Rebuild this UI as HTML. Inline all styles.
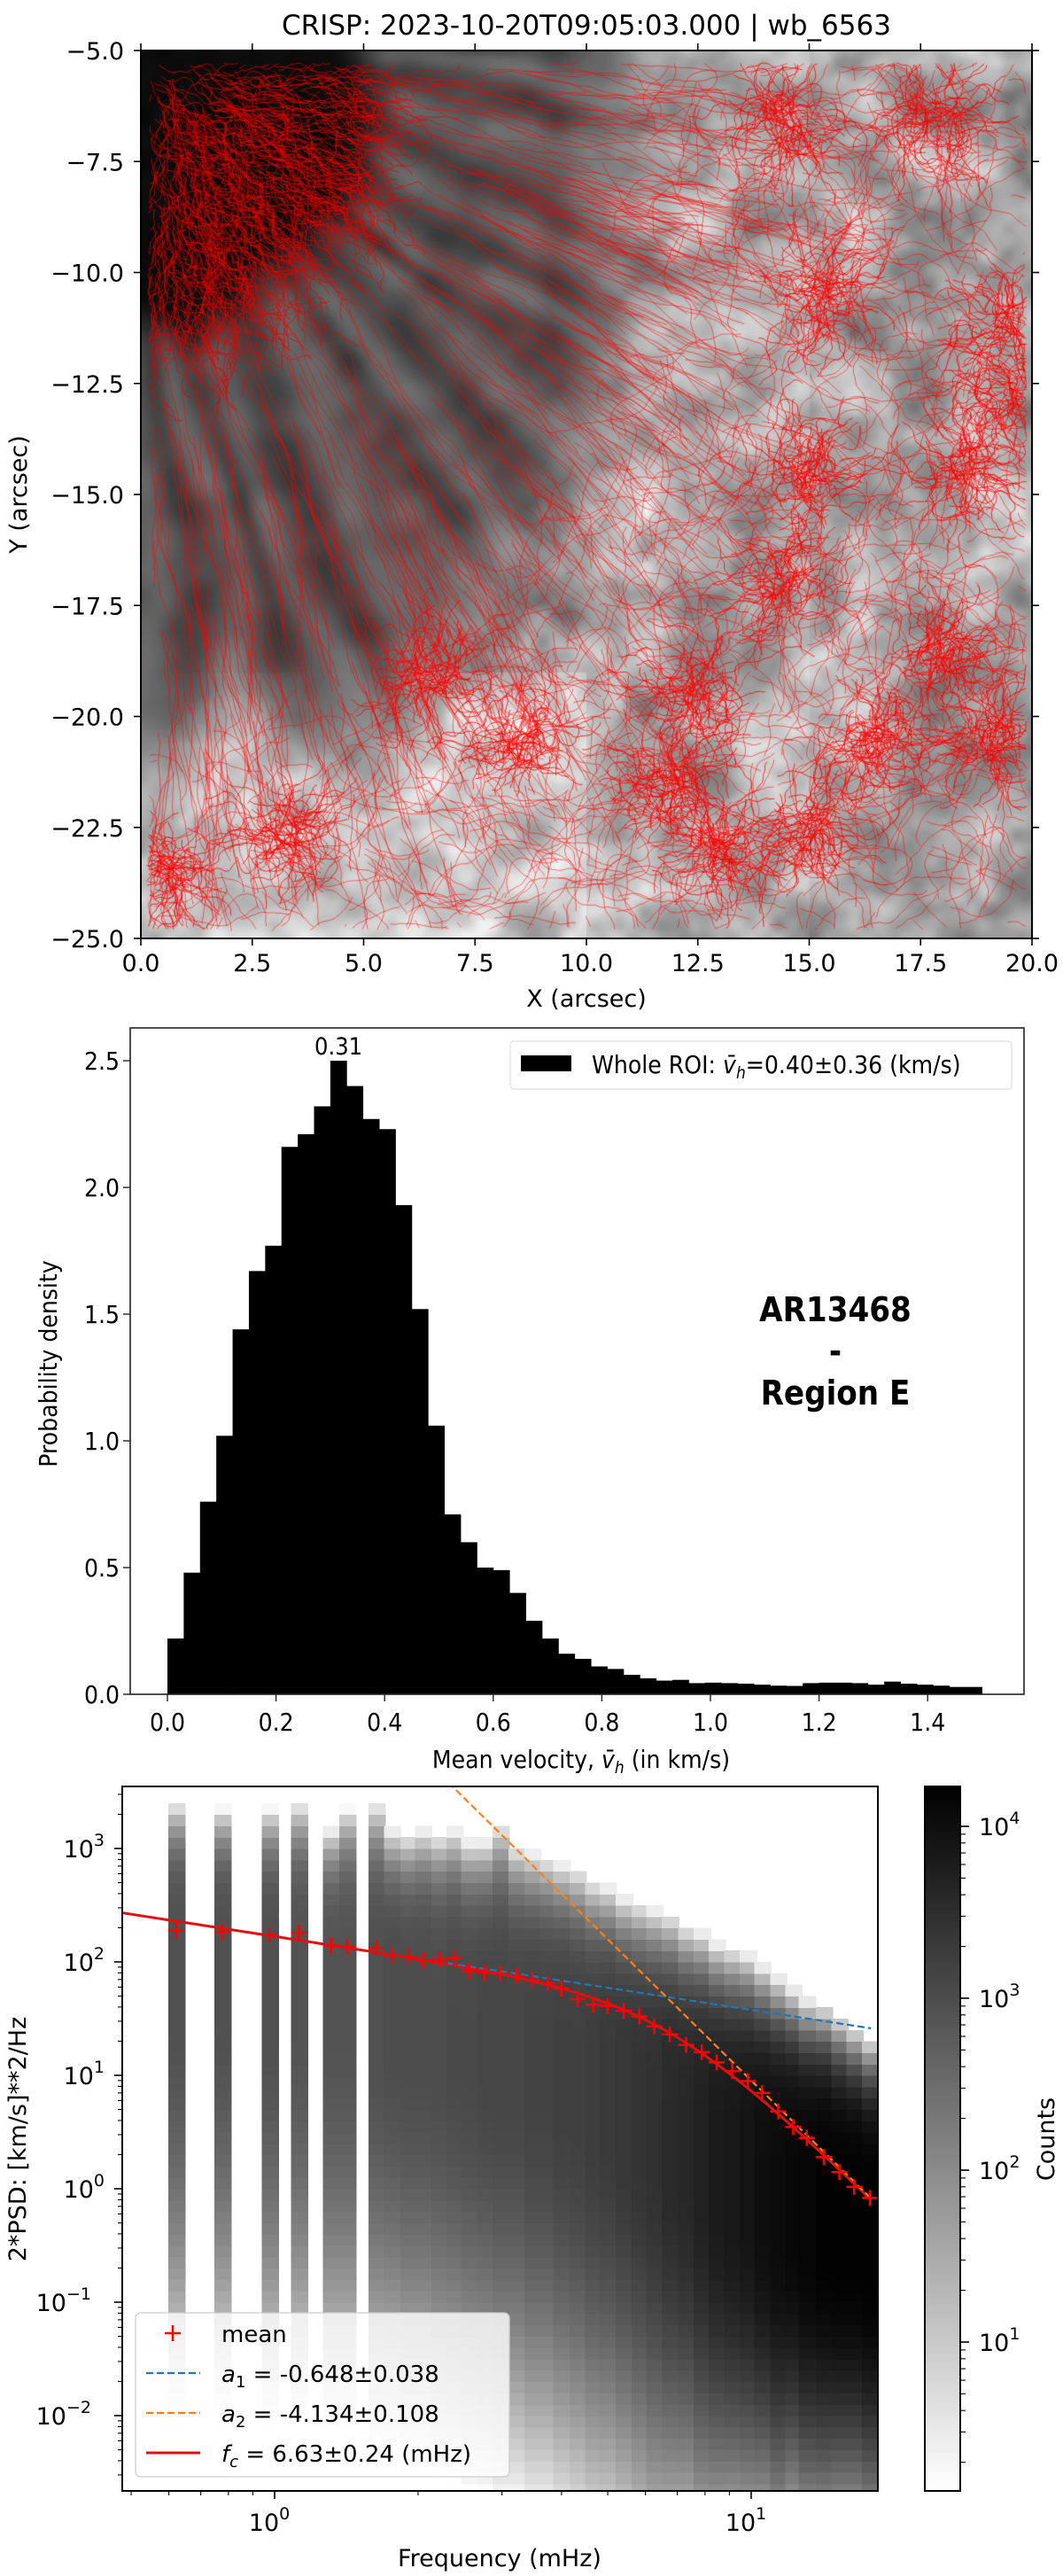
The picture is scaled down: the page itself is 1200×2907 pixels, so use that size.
<!DOCTYPE html>
<html><head><meta charset="utf-8">
<style>
body{margin:0;background:#fff;width:1200px;height:2907px;overflow:hidden;position:relative;font-family:"DejaVu Sans","Liberation Sans",sans-serif}
#bg{position:absolute;left:159px;top:57px;width:1006px;height:1002px}
#main{position:absolute;left:0;top:0}
</style></head>
<body>
<canvas id="bg" width="1006" height="1002"></canvas>
<svg id="main" width="1200" height="2907" xmlns="http://www.w3.org/2000/svg"></svg>
<script>
// ---------- Histogram data (panel 2) ----------
const binStart = 0.0;
const binWidth = 0.03;
const density = [0.22,0.48,0.76,1.02,1.44,1.67,1.77,2.16,2.21,2.32,2.50,2.40,2.27,2.23,1.93,1.52,1.06,0.71,0.60,0.50,0.49,0.40,0.29,0.22,0.16,0.14,0.11,0.10,0.077,0.063,0.054,0.057,0.044,0.046,0.044,0.042,0.038,0.034,0.033,0.044,0.046,0.046,0.044,0.038,0.05,0.042,0.038,0.034,0.029,0.029];
const histYTicks = [0.0,0.5,1.0,1.5,2.0,2.5];
const histXTicks = [0.0,0.2,0.4,0.6,0.8,1.0,1.2,1.4];
// ---------- PSD data (panel 3) ----------
const meanFreq = [0.622,0.777,0.977,1.125,1.313,1.420,1.635,1.762,1.907,2.049,2.216,2.382,2.561,2.761,2.977,3.220,3.471,3.744,3.997,4.323,4.662,4.994,5.403,5.827,6.262,6.751,7.302,7.875,8.464,9.125,9.838,10.54,11.40,12.25,13.08,14.20,15.31,16.45,17.74];
const meanPSD = [190,183,172,181,140,136,133,114,111,103,105,108,83,80,79,75,69,65,58,47,42,41,37,33,27,23,18.5,16,13,10.9,8.9,7.0,4.8,3.5,2.8,1.9,1.4,1.04,0.83];
const colPeak = [2.95,2.95,2.95,2.9,2.9,2.9,2.95,3.0,3.0,3.0,3.0,3.05,3.05,3.1,3.1,3.1,3.15,3.15,3.2,3.2,3.25,3.3,3.35,3.4,3.45,3.55,3.6,3.7,3.8,3.85,3.9,4.0,4.05,4.1,4.15,4.2,4.2,4.2,4.2];
const colCenter = [1.6,1.6,1.5,1.5,1.4,1.4,1.3,1.3,1.2,1.2,1.1,1.1,1.0,1.0,0.9,0.9,0.8,0.8,0.7,0.6,0.5,0.5,0.4,0.3,0.2,0.1,0.0,-0.1,-0.2,-0.3,-0.3,-0.4,-0.5,-0.5,-0.6,-0.6,-0.7,-0.7,-0.8];
const colSigDown = [1,1,1,1,1,1,1,1,1,1,1,1,1,1,1,1,1,1,1,1,1,1,1,1,1,0.95,0.9,0.9,0.85,0.8,0.8,0.75,0.75,0.7,0.7,0.7,0.65,0.65,0.65];
const colTop = [3.43,3.38,3.38,3.43,3.2,3.38,3.43,3.2,3.15,3.2,3.15,3.2,3.1,3.1,3.25,3.05,3.0,2.95,2.9,2.85,2.75,2.7,2.6,2.55,2.5,2.45,2.35,2.3,2.2,2.15,2.1,2.0,1.9,1.8,1.7,1.65,1.55,1.45,1.35];
const fitA = 168, fitA1 = -0.648, fitA2 = -4.134, fitFc = 6.63;
const psdYTickExp = [-2,-1,0,1,2,3];
const psdXTickExp = [0,1];
const cbarTickExp = [1,2,3,4];

const svg = document.getElementById('main');
const NS = 'http://www.w3.org/2000/svg';
function mk(tag, attrs, parent){const e=document.createElementNS(NS,tag);for(const k in attrs)e.setAttribute(k,attrs[k]);(parent||svg).appendChild(e);return e;}
function grp(parent){return mk('g',{},parent);}

// =============== PANEL 1 : image =================
(function(){
const cv=document.getElementById('bg');const ctx=cv.getContext('2d');
const W=1006,H=1002;
function hash(i,j){let h=Math.imul(i,374761393)+Math.imul(j,668265263)|0;h=Math.imul(h^(h>>>13),1274126177);h=h^(h>>>16);return (h>>>0)/4294967295;}
function vn(x,y){const i=Math.floor(x),j=Math.floor(y);const fx=x-i,fy=y-j;const sx=fx*fx*(3-2*fx),sy=fy*fy*(3-2*fy);
const a=hash(i,j),b=hash(i+1,j),c=hash(i,j+1),d=hash(i+1,j+1);return a+(b-a)*sx+(c-a)*sy+(a-b-c+d)*sx*sy;}
function fbm(x,y){return 0.55*vn(x,y)+0.3*vn(x*2.1+7,y*2.1+3)+0.15*vn(x*4.3+1,y*4.3+9);}
function ss(a,b,x){const t=Math.min(1,Math.max(0,(x-a)/(b-a)));return t*t*(3-2*t);}
const img=ctx.createImageData(W,H);const D=img.data;
for(let py=0;py<H;py++){for(let px=0;px<W;px++){
 const X=px/50.3, Y=-5-py/50.1;
 const dx=X+0.5, dy=-(Y+4.5);
 const r=Math.hypot(dx,dy);const th=Math.atan2(dy,dx);
 const Ru=5.2+1.8*Math.sin(th)+0.6*(vn(th*6,1)-0.5);
 const Rp=11+5.5*Math.sin(th)+2.0*(vn(th*5,4)-0.5);
 const q=fbm(X*0.8,Y*0.8);
 let quiet=0.57+0.55*(q-0.3)+0.12*(vn(X*3,Y*3)-0.5);
 if(X<10&&Y<-19)quiet+=0.08;
 if(X>15)quiet-=0.04;
 quiet=Math.min(0.97,Math.max(0.40,quiet));
 const fib=0.5+0.5*Math.sin(th*40+5*vn(th*8,r*0.25));
 let pen=0.26+0.16*fib*(0.4+0.6*r/Rp)+0.1*(vn(X*1.5,Y*1.5)-0.5);
 const umb=0.03+0.03*vn(X*2,Y*2);
 let v;
 const tu=ss(Ru-0.8,Ru+0.8,r), tp=ss(Rp-2,Rp+2,r);
 v=umb*(1-tu)+pen*tu; v=v*(1-tp)+quiet*tp;
 const g=Math.round(255*Math.min(1,Math.max(0,v)));
 const k=(py*W+px)*4;D[k]=g;D[k+1]=g;D[k+2]=g;D[k+3]=255;}}
ctx.putImageData(img,0,0);
// tracks (decorative texture)
let s=12345;function rnd(){s|=0;s=s+0x6D2B79F5|0;let t=Math.imul(s^s>>>15,1|s);t=t+Math.imul(t^t>>>7,61|t)^t;return((t^t>>>14)>>>0)/4294967296;}
function gauss(){return Math.sqrt(-2*Math.log(rnd()+1e-9))*Math.cos(6.2832*rnd());}
ctx.lineJoin='round';
function walk(x,y,ang,steps,step,turn,bias,bw){ctx.beginPath();ctx.moveTo(x,y);
 for(let i=0;i<steps;i++){ang+=(rnd()-0.5)*turn;if(bias!==null)ang+=(bias-ang)*bw;x+=Math.cos(ang)*step;y+=Math.sin(ang)*step;
  if(x<8||x>W-6||y<14||y>H-10)break;ctx.lineTo(x,y);}ctx.stroke();}
const cx=-25,cy=-25;
function region(px,py){const X=px/50.3,Y=-5-py/50.1;const dx=X+0.5,dy=-(Y+4.5);const r=Math.hypot(dx,dy),th=Math.atan2(dy,dx);
 if(r<5.2+1.8*Math.sin(th))return 0;if(r<11+5.5*Math.sin(th))return 1;return 2;}
let n=0;
ctx.strokeStyle='rgba(230,0,0,0.7)';ctx.lineWidth=1;
while(n<600){const x=10+rnd()*330,y=14+rnd()*430;if(region(x,y)!==0)continue;n++;const th=Math.atan2(y-cy,x-cx);walk(x,y,th+(rnd()-0.5)*1.0,15+rnd()*20,4,1.4,th,0.12);}
n=0;
ctx.strokeStyle='rgba(255,0,0,0.6)';ctx.lineWidth=0.9;
while(n<450){const x=10+rnd()*700,y=14+rnd()*900;if(region(x,y)!==1)continue;n++;const th=Math.atan2(y-cy,x-cx);walk(x,y,th,25+rnd()*40,5,0.35,th,0.12);}
n=0;
while(n<1000){const x=10+rnd()*990,y=14+rnd()*980;if(region(x,y)!==2)continue;n++;walk(x,y,rnd()*6.28,12+rnd()*35,3.5,0.7,null,0);}
const clusters=[[17.8,-6.5],[14.5,-6.6],[15.3,-10.5],[19.3,-11.2],[19.5,-12.8],[15.0,-14.5],[18.5,-14.5],[14.5,-17],[18,-18.5],[19,-20.5],[12.5,-19.5],[11.8,-21.5],[8.5,-20.5],[3.2,-22.5],[0.5,-23.5],[16.5,-20.5],[15,-22.5],[13,-23],[6.5,-19]];
ctx.strokeStyle='rgba(255,0,0,0.8)';ctx.lineWidth=1;
for(const c of clusters){const px=c[0]*50.3,py=(-5-c[1])*50.1;for(let i=0;i<80;i++){walk(px+gauss()*18,py+gauss()*18,rnd()*6.28,10+rnd()*25,3,1.1,null,0);}}
})();

// axes for panel 1
(function(){
const g=grp();
mk('rect',{x:159,y:57,width:1006,height:1002,fill:'none',stroke:'#000','stroke-width':2},g);
const xt=[0,2.5,5,7.5,10,12.5,15,17.5,20];
xt.forEach(v=>{const x=159+v*50.3;mk('line',{x1:x,x2:x,y1:1059,y2:1067,stroke:'#000','stroke-width':1.6},g);mk('line',{x1:x,x2:x,y1:57,y2:49,stroke:'#000','stroke-width':1.6},g);
 const t=mk('text',{x:x,y:1096,'text-anchor':'middle','font-size':27},g);t.textContent=v.toFixed(1);
 });
const yt=[-5,-7.5,-10,-12.5,-15,-17.5,-20,-22.5,-25];
yt.forEach(v=>{const y=57+(-5-v)*50.1;mk('line',{x1:151,x2:159,y1:y,y2:y,stroke:'#000','stroke-width':1.6},g);mk('line',{x1:1165,x2:1173,y1:y,y2:y,stroke:'#000','stroke-width':1.6},g);
 const t=mk('text',{x:140,y:y+10,'text-anchor':'end','font-size':27},g);t.textContent='\u2212'+Math.abs(v).toFixed(1);
 });
const ti=mk('text',{x:662,y:39,'text-anchor':'middle','font-size':31},g);ti.textContent='CRISP: 2023-10-20T09:05:03.000 | wb_6563';

const xl=mk('text',{x:662,y:1136,'text-anchor':'middle','font-size':27},g);xl.textContent='X (arcsec)';

const yl=mk('text',{x:0,y:0,'text-anchor':'middle','font-size':27,transform:'translate(30,558) rotate(-90)'},g);yl.textContent='Y (arcsec)';

})();

// =============== PANEL 2 : histogram =================
(function(){
const L=147,R=1156,T=1160,B=1912;
const hx=v=>189+v*613, hy=v=>1912-v*286;
const F='"DejaVu Sans Condensed","DejaVu Sans",sans-serif';
const g=grp();
density.forEach((d,i)=>{const x0=hx(binStart+i*binWidth),x1=hx(binStart+(i+1)*binWidth);
 const r=mk('rect',{x:x0,y:hy(d),width:x1-x0+0.4,height:hy(0)-hy(d),fill:'#000'},g);
 });
mk('rect',{x:L,y:T,width:R-L,height:B-T,fill:'none',stroke:'#222','stroke-width':1.6},g);
histYTicks.forEach(v=>{const y=hy(v);mk('line',{x1:L-8,x2:L,y1:y,y2:y,stroke:'#222','stroke-width':1.4},g);
 const t=mk('text',{x:L-12,y:y+10,'text-anchor':'end','font-size':28,'font-family':F},g);t.textContent=v.toFixed(1);
 });
histXTicks.forEach(v=>{const x=hx(v);mk('line',{x1:x,x2:x,y1:B,y2:B+8,stroke:'#222','stroke-width':1.4},g);
 const t=mk('text',{x:x,y:1953,'text-anchor':'middle','font-size':28,'font-family':F},g);t.textContent=v.toFixed(1);
 });
let pk=0;density.forEach((d,i)=>{if(d>density[pk])pk=i;});
const pl=mk('text',{x:hx(binStart+(pk+0.5)*binWidth),y:hy(density[pk])-7,'text-anchor':'middle','font-size':27,'font-family':F},g);pl.textContent='0.31';

const xl=mk('text',{x:656,y:1995,'text-anchor':'middle','font-size':28,'font-family':F},g);
xl.innerHTML='Mean velocity, <tspan font-style="italic">v\u0304</tspan><tspan font-size="19" font-style="italic" dy="6">h</tspan><tspan dy="-6"> (in km/s)</tspan>';

const yl=mk('text',{x:0,y:0,'text-anchor':'middle','font-size':28,'font-family':F,transform:'translate(64,1539) rotate(-90)'},g);yl.textContent='Probability density';

const lg=grp(g);
mk('rect',{x:576,y:1175,width:566,height:54,rx:4,fill:'#fff',stroke:'#ddd','stroke-width':1.2},lg);
mk('rect',{x:588,y:1191,width:57,height:18,fill:'#000'},lg);
const lt=mk('text',{x:668,y:1211,'font-size':28,'font-family':F},lg);
lt.innerHTML='Whole ROI: <tspan font-style="italic">v\u0304</tspan><tspan font-size="19" font-style="italic" dy="6">h</tspan><tspan dy="-6">=0.40\u00b10.36 (km/s)</tspan>';

const an=mk('text',{x:943,y:1491,'text-anchor':'middle','font-size':38,'font-weight':'bold','font-family':F},g);
an.innerHTML='<tspan x="943">AR13468</tspan><tspan x="943" dy="47">-</tspan><tspan x="943" dy="47">Region E</tspan>';

})();

// =============== PANEL 3 : PSD =================
(function(){
const L=138,R=991,T=2016,B=2811;
const fx=f=>310+538*Math.log10(f);
const py=l=>2214-128*(l-2);
const g=grp();
const defs=mk('defs',{},g);const cp=mk('clipPath',{id:'pc'},defs);mk('rect',{x:L,y:T,width:R-L,height:B-T},cp);
const hm=grp(g);hm.setAttribute('clip-path','url(#pc)');
hm.setAttribute('shape-rendering','crispEdges');
const cmin=0.134,cmax=4.23,dex=0.0335;
meanFreq.forEach((f,i)=>{
 const lf=Math.log10(f);const x0=fx(Math.pow(10,lf-dex/2)),x1=fx(Math.pow(10,lf+dex/2));
 for(let l=-2.7;l<3.6;l+=0.1){const lc=l+0.05;let lc2;
  if(lc<colCenter[i]){const z=(colCenter[i]-lc)/colSigDown[i];lc2=colPeak[i]-z*z/2/2.3026;}
  else{const u=(lc-colCenter[i])/(colTop[i]-colCenter[i]);lc2=colPeak[i]*(1-Math.pow(u,6));}
  if(lc2<cmin)continue;const val=Math.min(1,(lc2-cmin)/(cmax-cmin));const gv=Math.round(255*(1-val));
  const r=mk('rect',{x:x0,y:py(l+0.1),width:x1-x0+1.6,height:py(l)-py(l+0.1)+0.6,fill:`rgb(${gv},${gv},${gv})`},hm);
  }
});
const cl=grp(g);cl.setAttribute('clip-path','url(#pc)');
let pb='',po='',pr='';
for(let k=0;k<=200;k++){const lf=Math.log10(0.48)+k*(Math.log10(18.5)-Math.log10(0.48))/200;const f=Math.pow(10,lf);
 const b=fitA*Math.pow(f,fitA1);const o=fitA*Math.pow(fitFc,fitA1-fitA2)*Math.pow(f,fitA2);const rr=b/(1+Math.pow(f/fitFc,fitA1-fitA2));
 if(f>=2.3&&f<=17.9)pb+=(pb?'L':'M')+fx(f).toFixed(1)+' '+py(Math.log10(b)).toFixed(1);
 if(f<=17.9)po+=(po?'L':'M')+fx(f).toFixed(1)+' '+py(Math.log10(o)).toFixed(1);
 if(f<=18.0)pr+=(pr?'L':'M')+fx(f).toFixed(1)+' '+py(Math.log10(rr)).toFixed(1);}
const lr=mk('path',{d:pr,fill:'none',stroke:'#e01010','stroke-width':3},cl);
const lb=mk('path',{d:pb,fill:'none',stroke:'#1f77b4','stroke-width':2.2,'stroke-dasharray':'8,4'},cl);
const lo=mk('path',{d:po,fill:'none',stroke:'#ff7f0e','stroke-width':2.2,'stroke-dasharray':'8,4'},cl);
meanFreq.forEach((f,i)=>{const x=fx(f),y=py(Math.log10(meanPSD[i]));
 const m=mk('path',{d:`M${x-9} ${y}H${x+9}M${x} ${y-9}V${y+9}`,stroke:'#f00','stroke-width':2.5},cl);
 });
mk('rect',{x:L,y:T,width:R-L,height:B-T,fill:'none',stroke:'#000','stroke-width':2},g);
psdYTickExp.forEach(e=>{const y=py(e);mk('line',{x1:L-9,x2:L,y1:y,y2:y,stroke:'#000','stroke-width':1.6},g);
 const t=mk('text',{x:e<0?L-35:L-20,y:y+10,'text-anchor':'end','font-size':27},g);t.textContent='10';
 const sp=mk('tspan',{dy:-13,'font-size':19},t);sp.textContent=e<0?'\u2212'+(-e):String(e);
 t.setAttribute('x',e<0?L-8-27:L-8-12);
 });
for(let e=-3;e<=3;e++)for(let m=2;m<=9;m++){const l=e+Math.log10(m);if(l<-2.66||l>3.54)continue;const y=py(l);mk('line',{x1:L-5,x2:L,y1:y,y2:y,stroke:'#000','stroke-width':1.1},g);}
psdXTickExp.forEach(e=>{const x=fx(Math.pow(10,e));mk('line',{x1:x,x2:x,y1:B,y2:B+9,stroke:'#000','stroke-width':1.6},g);
 const t=mk('text',{x:x-6,y:2856,'text-anchor':'middle','font-size':27},g);t.textContent='10';
 const sp=mk('tspan',{dy:-13,'font-size':19},t);sp.textContent=String(e);
 });
[0.5,0.6,0.7,0.8,0.9,2,3,4,5,6,7,8,9].forEach(f=>{const x=fx(f);mk('line',{x1:x,x2:x,y1:B,y2:B+5,stroke:'#000','stroke-width':1.1},g);});
const xl=mk('text',{x:564,y:2896,'text-anchor':'middle','font-size':27},g);xl.textContent='Frequency (mHz)';

const yl=mk('text',{x:0,y:0,'text-anchor':'middle','font-size':27,transform:'translate(29,2414) rotate(-90)'},g);yl.textContent='2*PSD: [km/s]**2/Hz';

const lg=grp(g);
mk('rect',{x:153,y:2610,width:422,height:185,rx:6,fill:'#fff','fill-opacity':0.8,stroke:'#ccc','stroke-width':1.3},lg);
mk('path',{d:'M186 2633H204M195 2624V2642',stroke:'#f00','stroke-width':2.5},lg);
mk('line',{x1:165,x2:226,y1:2678,y2:2678,stroke:'#1f77b4','stroke-width':2.2,'stroke-dasharray':'8,4'},lg);
mk('line',{x1:165,x2:226,y1:2723,y2:2723,stroke:'#ff7f0e','stroke-width':2.2,'stroke-dasharray':'8,4'},lg);
mk('line',{x1:165,x2:226,y1:2768,y2:2768,stroke:'#e01010','stroke-width':3},lg);
const t1=mk('text',{x:250,y:2643,'font-size':26},lg);t1.textContent='mean';

const t2=mk('text',{x:250,y:2688,'font-size':26},lg);t2.innerHTML='<tspan font-style="italic">a</tspan><tspan font-size="18" dy="6">1</tspan><tspan dy="-6"> = -0.648\u00b10.038</tspan>';

const t3=mk('text',{x:250,y:2733,'font-size':26},lg);t3.innerHTML='<tspan font-style="italic">a</tspan><tspan font-size="18" dy="6">2</tspan><tspan dy="-6"> = -4.134\u00b10.108</tspan>';

const t4=mk('text',{x:250,y:2778,'font-size':26},lg);t4.innerHTML='<tspan font-style="italic">f</tspan><tspan font-size="18" font-style="italic" dy="6">c</tspan><tspan dy="-6"> = 6.63\u00b10.24 (mHz)</tspan>';

const cb=grp(g);
const lgd=mk('linearGradient',{id:'cbg',x1:0,y1:1,x2:0,y2:0},defs);
mk('stop',{offset:0,'stop-color':'#fff'},lgd);mk('stop',{offset:1,'stop-color':'#000'},lgd);
mk('rect',{x:1044,y:T,width:40,height:B-T,fill:'url(#cbg)',stroke:'#000','stroke-width':2},cb);
const cy=l=>2061-194*(l-4);
cbarTickExp.forEach(e=>{const y=cy(e);mk('line',{x1:1084,x2:1094,y1:y,y2:y,stroke:'#000','stroke-width':1.6},cb);
 const t=mk('text',{x:1105,y:y+10,'font-size':27},cb);t.textContent='10';const sp=mk('tspan',{dy:-13,'font-size':19},t);sp.textContent=String(e);
 });
for(let e=0;e<=4;e++)for(let m=2;m<=9;m++){const l=e+Math.log10(m);if(l<0.134||l>4.23)continue;const y=cy(l);mk('line',{x1:1084,x2:1090,y1:y,y2:y,stroke:'#000','stroke-width':1.1},cb);}
const ct=mk('text',{x:0,y:0,'text-anchor':'middle','font-size':27,transform:'translate(1190,2414) rotate(-90)'},cb);ct.textContent='Counts';

})();
</script>
</body></html>
